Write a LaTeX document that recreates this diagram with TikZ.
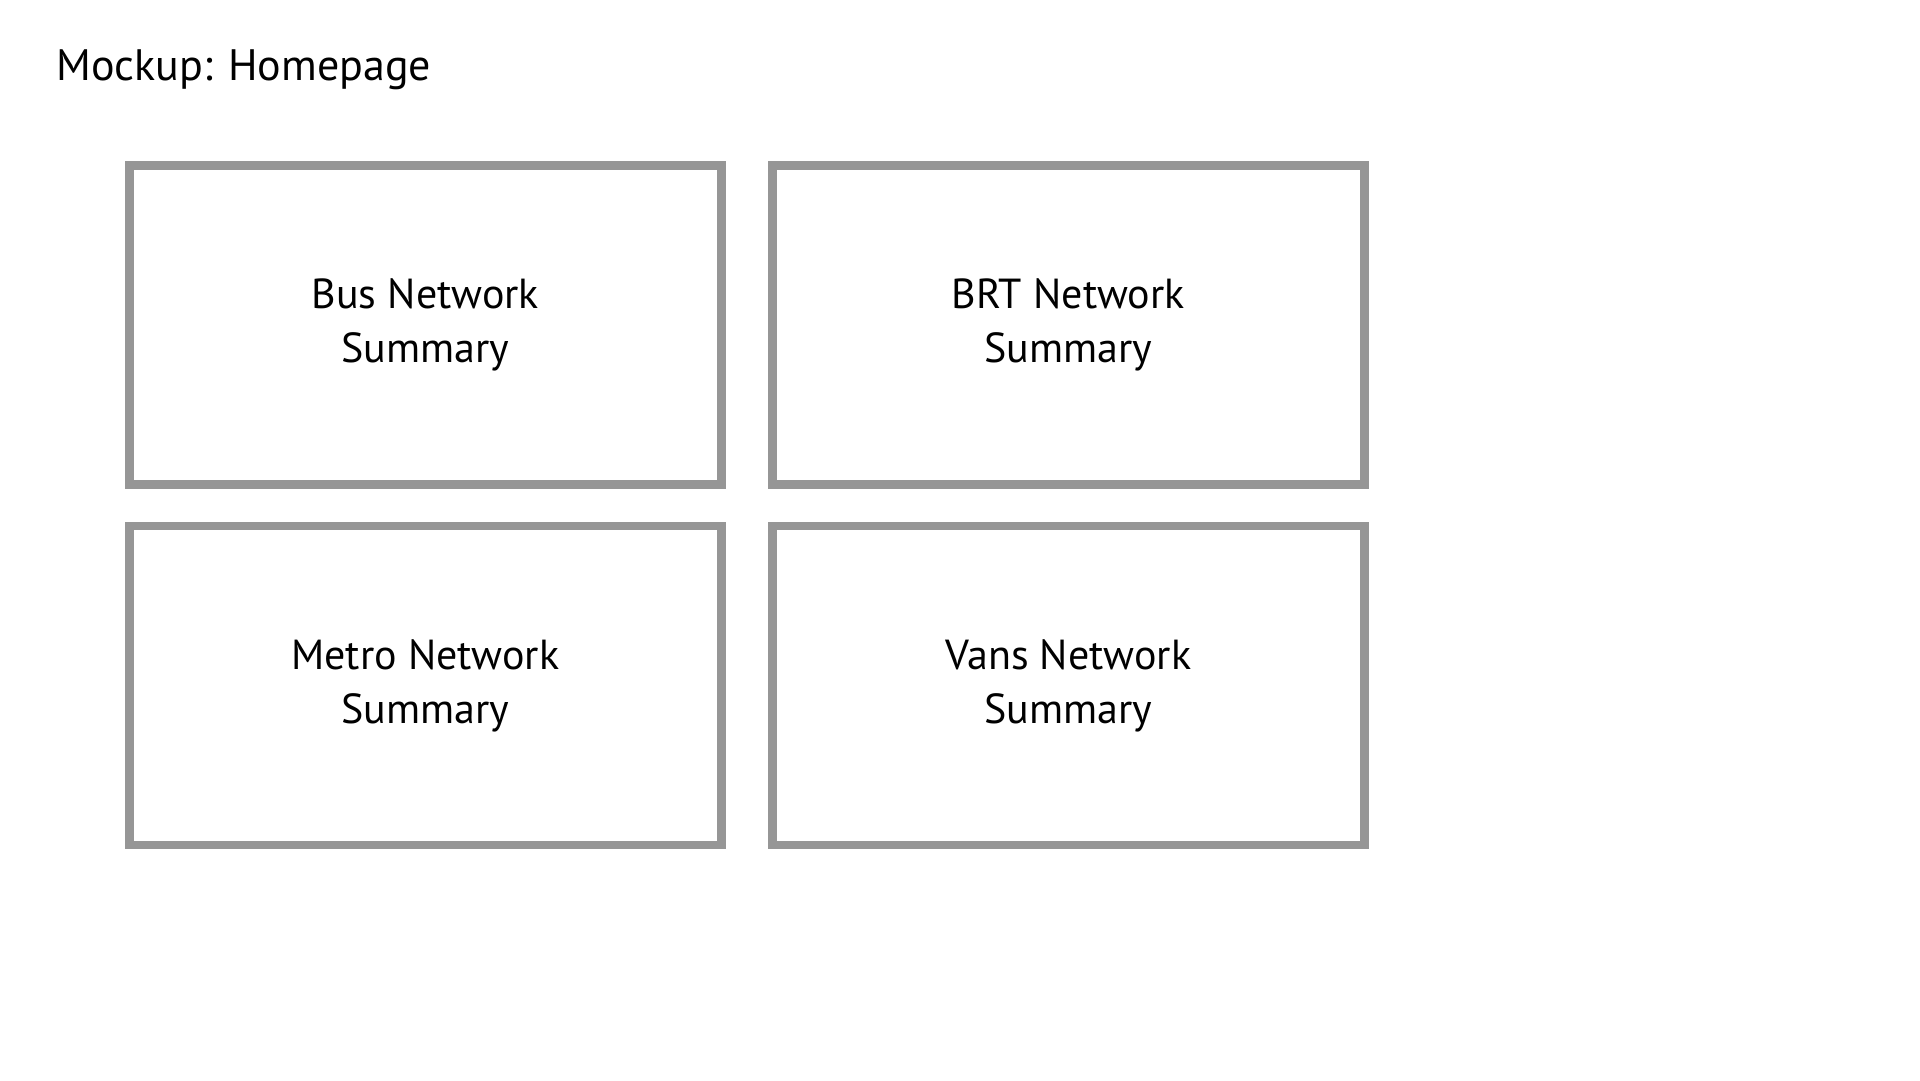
\documentclass[tikz,border=0pt]{standalone}
\usepackage{fontspec}
\setmainfont{PT Sans}
\definecolor{boxgray}{RGB}{150,150,150}
\begin{document}
\begin{tikzpicture}[x=1pt,y=-1pt,
  panel/.style={draw=boxgray,line width=8.5pt,minimum width=592pt,minimum height=319pt,inner sep=0pt,align=center,font=\fontsize{42}{54}\selectfont},
  titletext/.style={font=\fontsize{44}{50}\selectfont,inner sep=0pt,anchor=base west}]
\useasboundingbox[fill=white] (0,0) rectangle (1920,1080);
\node[titletext] (title) at (56,80) {Mockup: Homepage};
\node[panel] (bus) at (425.3,325) {Bus Network\\Summary};
\node[panel] (brt) at (1068.3,325) {BRT Network\\Summary};
\node[panel] (metro) at (425.3,685.4) {Metro Network\\Summary};
\node[panel] (vans) at (1068.3,685.4) {Vans Network\\Summary};
\end{tikzpicture}
\end{document}
